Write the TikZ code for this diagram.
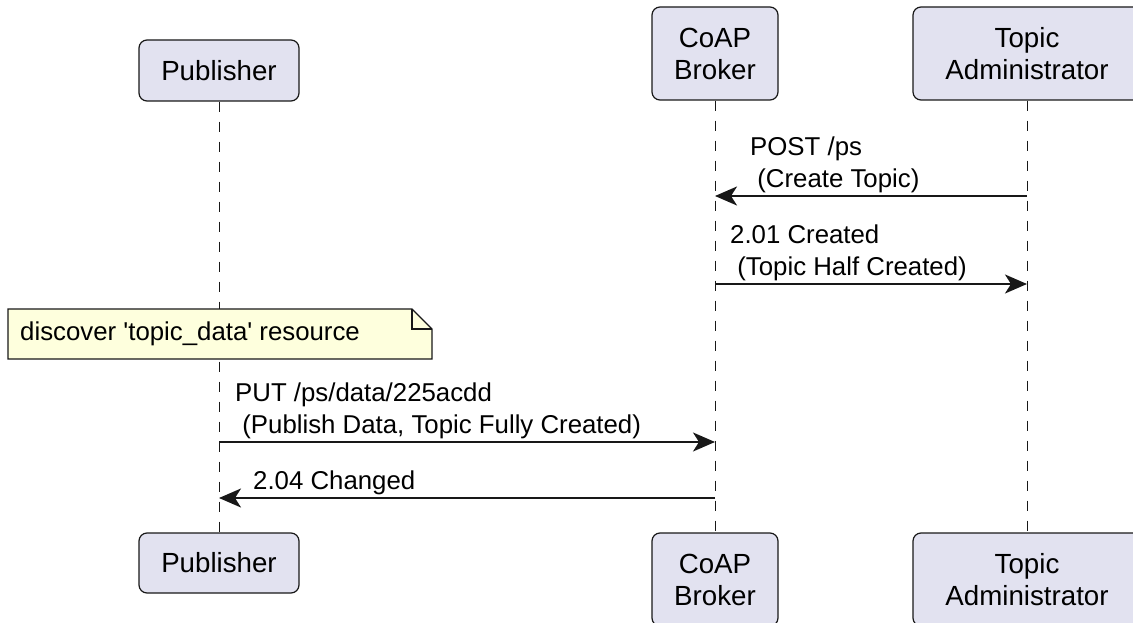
\documentclass[tikz,border=0pt]{standalone}
\usepackage{fontspec}
\newfontfamily\umlfont{Liberation Sans}
\usetikzlibrary{arrows.meta}

\definecolor{partfill}{HTML}{E2E2F0}
\definecolor{notefill}{HTML}{FEFFDD}
\definecolor{umlline}{HTML}{181818}

\tikzset{
  participant/.style={draw=umlline, line width=1.2pt, fill=partfill,
    rounded corners=8pt, align=center, inner sep=0pt,
    font=\umlfont\fontsize{27.7}{32}\selectfont},
  lifeline/.style={draw=umlline, line width=1pt, dash pattern=on 10pt off 10pt},
  message/.style={draw=umlline, line width=2pt,
    -{Stealth[length=22pt,width=19pt,inset=6pt]}},
  msgtext/.style={anchor=base west, inner sep=0pt, align=left,
    font=\umlfont\fontsize{25.8}{32}\selectfont},
  noteshape/.style={draw=umlline, line width=1.2pt, fill=notefill},
}

\begin{document}
\begin{tikzpicture}[x=1pt, y=-1pt]
  \useasboundingbox (0,0) rectangle (1133,623);
  \clip (0,0) rectangle (1133,623);

  % participants (top)
  \node[participant, minimum width=160pt, minimum height=61pt] (pubTop) at (219,70.5) {Publisher};
  \node[participant, minimum width=126pt, minimum height=93pt] (brokerTop) at (715,53.5) {CoAP\\Broker};
  \node[participant, minimum width=228pt, minimum height=93pt] (adminTop) at (1027,53.5) {Topic\\Administrator};

  % participants (bottom)
  \node[participant, minimum width=160pt, minimum height=60pt] (pubBot) at (219,563) {Publisher};
  \node[participant, minimum width=126pt, minimum height=93pt] (brokerBot) at (715,579.5) {CoAP\\Broker};
  \node[participant, minimum width=228pt, minimum height=93pt] (adminBot) at (1027,579.5) {Topic\\Administrator};

  % lifelines
  \draw[lifeline] (pubTop) -- (pubBot);
  \draw[lifeline] (brokerTop) -- (brokerBot);
  \draw[lifeline] (adminTop) -- (adminBot);

  % messages
  \draw[message] (adminTop |- 0,196) -- (brokerTop |- 0,196);
  \node[msgtext] (postText) at (750,187) {POST /ps\\~(Create Topic)};

  \draw[message] (brokerTop |- 0,284) -- (adminTop |- 0,284);
  \node[msgtext] (createdText) at (730,275) {2.01 Created\\~(Topic Half Created)};

  % note
  \coordinate (noteNW) at (8,309);
  \coordinate (noteSE) at (432,359);
  \draw[noteshape] (noteNW) -- ([xshift=-20pt]noteNW -| noteSE)
    -- ([yshift=-20pt]noteNW -| noteSE) -- (noteSE) -- (noteNW |- noteSE) -- cycle;
  \draw[noteshape, fill=none] ([xshift=-20pt]noteNW -| noteSE)
    |- ([yshift=-20pt]noteNW -| noteSE);
  \node[msgtext, anchor=west] (noteText) at (20,334) {discover 'topic\_data' resource};

  \draw[message] (pubTop |- 0,442) -- (brokerTop |- 0,442);
  \node[msgtext] (putText) at (235,433) {PUT /ps/data/225acdd\\~(Publish Data, Topic Fully Created)};

  \draw[message] (brokerTop |- 0,498) -- (pubTop |- 0,498);
  \node[msgtext] (changedText) at (253,489) {2.04 Changed};

\end{tikzpicture}
\end{document}
